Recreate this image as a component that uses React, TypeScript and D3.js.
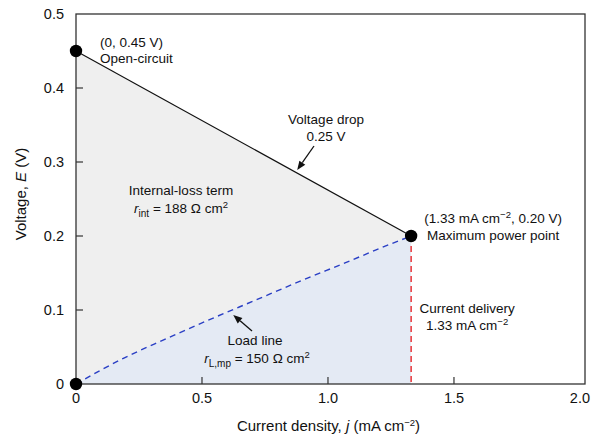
import React from 'react';
import * as d3 from 'd3';

// Polarization sketch: open-circuit point, internal-loss line, load line and maximum power point
const W = 594;
const H = 435;

const xTicks = [0, 0.5, 1.0, 1.5, 2.0];
const xTickLabels = ['0', '0.5', '1.0', '1.5', '2.0'];
const yTicks = [0, 0.1, 0.2, 0.3, 0.4, 0.5];
const yTickLabels = ['0', '0.1', '0.2', '0.3', '0.4', '0.5'];

// key operating points (j in mA cm^-2, E in V)
const openCircuit = { j: 0, E: 0.45 };
const maxPower = { j: 1.33, E: 0.2 };
const origin = { j: 0, E: 0 };

// load line from the origin to the maximum power point
const loadLineJ = [0, 0.19, 0.35, 0.53, 0.71, 0.89, 1.07, 1.24, 1.33];
const loadLineE = [0, 0.035, 0.06, 0.087, 0.113, 0.139, 0.164, 0.188, 0.2];

const FONT = 'Liberation Sans, Arial, Helvetica, sans-serif';

type Pt = { j: number; E: number };

function Arrow({ x1, y1, x2, y2 }: { x1: number; y1: number; x2: number; y2: number }) {
  const ang = Math.atan2(y2 - y1, x2 - x1);
  const len = 9;
  const hw = 3.6;
  const bx = x2 - len * Math.cos(ang);
  const by = y2 - len * Math.sin(ang);
  const px = -Math.sin(ang) * hw;
  const py = Math.cos(ang) * hw;
  return (
    <g>
      <line x1={x1} y1={y1} x2={bx} y2={by} stroke="#111" strokeWidth={1.3} />
      <polygon points={`${x2},${y2} ${bx + px},${by + py} ${bx - px},${by - py}`} fill="#111" />
    </g>
  );
}

export default function App() {
  const x = d3.scaleLinear().domain([0, 2.02]).range([76, 585]);
  const y = d3.scaleLinear().domain([0, 0.5]).range([384, 14]);
  const [x0, x1] = x.range();
  const [y0, y1] = y.range();

  const loadPts: Pt[] = loadLineJ.map((j, i) => ({ j, E: loadLineE[i] }));
  const lineGen = d3
    .line<Pt>()
    .x((d) => x(d.j))
    .y((d) => y(d.E))
    .curve(d3.curveMonotoneX);
  const loadPath = lineGen(loadPts) || '';

  // gray region: between the internal-loss line and the load line
  const grayPts: Pt[] = [openCircuit, maxPower, ...loadPts.slice().reverse(), origin];
  const grayPath =
    `M${x(openCircuit.j)},${y(openCircuit.E)} L${x(maxPower.j)},${y(maxPower.E)} ` +
    (d3.line<Pt>().x((d) => x(d.j)).y((d) => y(d.E)).curve(d3.curveMonotoneX)(loadPts.slice().reverse()) || '').replace(/^M/, 'L') +
    ' Z';
  void grayPts;

  // blue region: under the load line
  const bluePath =
    (lineGen(loadPts) || '') + ` L${x(maxPower.j)},${y(0)} L${x(0)},${y(0)} Z`;

  // voltage drop arrow tip on the internal-loss line
  const t = 0.66;
  const dropTip = {
    x: x(openCircuit.j + (maxPower.j - openCircuit.j) * t),
    y: y(openCircuit.E + (maxPower.E - openCircuit.E) * t) - 3,
  };
  // load line arrow tip just below the curve
  const loadInterp = d3.scaleLinear().domain(loadLineJ).range(loadLineE);
  const jA = 0.62;
  const loadTip = { x: x(jA) + 1, y: y(loadInterp(jA)) + 5 };

  const mx = x(maxPower.j);
  const my = y(maxPower.E);

  const sup = (s: string) => (
    <tspan dy={-5} fontSize={9.5}>
      {s}
    </tspan>
  );

  return (
    <svg
      width={W}
      height={H}
      viewBox={`0 0 ${W} ${H}`}
      style={{ position: 'absolute', left: 0, top: 0, background: '#fff' }}
      fontFamily={FONT}
    >
      <rect x={0} y={0} width={W} height={H} fill="#fff" />

      {/* shaded regions */}
      <path d={grayPath} fill="#efefef" />
      <path d={bluePath} fill="#e4eaf4" />

      {/* internal-loss line */}
      <line
        x1={x(openCircuit.j)}
        y1={y(openCircuit.E)}
        x2={mx}
        y2={my}
        stroke="#111"
        strokeWidth={1.2}
      />
      {/* load line */}
      <path d={loadPath} fill="none" stroke="#2a3fc4" strokeWidth={1.4} strokeDasharray="6,4.5" />
      {/* current delivery */}
      <line x1={mx} y1={my} x2={mx} y2={y(0)} stroke="#e8262a" strokeWidth={1.4} strokeDasharray="6,4" />

      {/* frame */}
      <rect x={x0} y={y1} width={x1 - x0} height={y0 - y1} fill="none" stroke="#333" strokeWidth={1.3} />

      {/* ticks */}
      {xTicks.map((v, i) => (
        <g key={`xt${i}`}>
          {i > 0 && i < xTicks.length - 1 && (
            <line x1={x(v)} x2={x(v)} y1={y0} y2={y0 - 7} stroke="#333" strokeWidth={1.2} />
          )}
          <text x={x(v)} y={y0 + 19} textAnchor="middle" fontSize={14.5} fill="#111">
            {xTickLabels[i]}
          </text>
        </g>
      ))}
      {yTicks.map((v, i) => (
        <g key={`yt${i}`}>
          {i > 0 && i < yTicks.length - 1 && (
            <line x1={x0} x2={x0 + 7} y1={y(v)} y2={y(v)} stroke="#333" strokeWidth={1.2} />
          )}
          <text x={x0 - 12} y={y(v) + 5} textAnchor="end" fontSize={14.5} fill="#111">
            {yTickLabels[i]}
          </text>
        </g>
      ))}

      {/* axis titles */}
      <text x={(x0 + 581) / 2} y={431} textAnchor="middle" fontSize={15} fill="#111">
        Current density, <tspan fontStyle="italic">j</tspan> (mA cm{sup('−2')}
        <tspan dy={5}>)</tspan>
      </text>
      <text
        transform={`translate(26,${194}) rotate(-90)`}
        textAnchor="middle"
        fontSize={15}
        fill="#111"
      >
        Voltage, <tspan fontStyle="italic">E</tspan> (V)
      </text>

      {/* points */}
      {[openCircuit, maxPower, origin].map((p, i) => (
        <circle key={`pt${i}`} cx={x(p.j)} cy={y(p.E)} r={6.2} fill="#000" />
      ))}

      {/* annotations */}
      <g fontSize={13.5} fill="#111">
        <text x={x(openCircuit.j) + 24} y={y(openCircuit.E) - 4}>
          (0, 0.45 V)
        </text>
        <text x={x(openCircuit.j) + 24} y={y(openCircuit.E) + 12}>
          Open-circuit
        </text>

        <text x={326} y={124} textAnchor="middle">
          Voltage drop
        </text>
        <text x={326} y={141} textAnchor="middle">
          0.25 V
        </text>

        <text x={181} y={195} textAnchor="middle">
          Internal-loss term
        </text>
        <text x={181} y={213} textAnchor="middle">
          <tspan fontStyle="italic">r</tspan>
          <tspan dy={4} fontSize={10}>int</tspan>
          <tspan dy={-4}> = 188 Ω cm</tspan>
          {sup('2')}
        </text>

        <text x={255} y={345} textAnchor="middle">
          Load line
        </text>
        <text x={257} y={363} textAnchor="middle">
          <tspan fontStyle="italic">r</tspan>
          <tspan dy={4} fontSize={10}>L,mp</tspan>
          <tspan dy={-4}> = 150 Ω cm</tspan>
          {sup('2')}
        </text>

        <text x={mx + 82} y={my - 13} textAnchor="middle">
          (1.33 mA cm{sup('−2')}
          <tspan dy={5}>, 0.20 V)</tspan>
        </text>
        <text x={mx + 82} y={my + 4} textAnchor="middle">
          Maximum power point
        </text>

        <text x={mx + 56} y={313} textAnchor="middle">
          Current delivery
        </text>
        <text x={mx + 56} y={330} textAnchor="middle">
          1.33 mA cm{sup('−2')}
        </text>
      </g>

      {/* arrows */}
      <Arrow x1={314} y1={146} x2={dropTip.x} y2={dropTip.y} />
      <Arrow x1={252} y1={331} x2={loadTip.x} y2={loadTip.y} />
    </svg>
  );
}
